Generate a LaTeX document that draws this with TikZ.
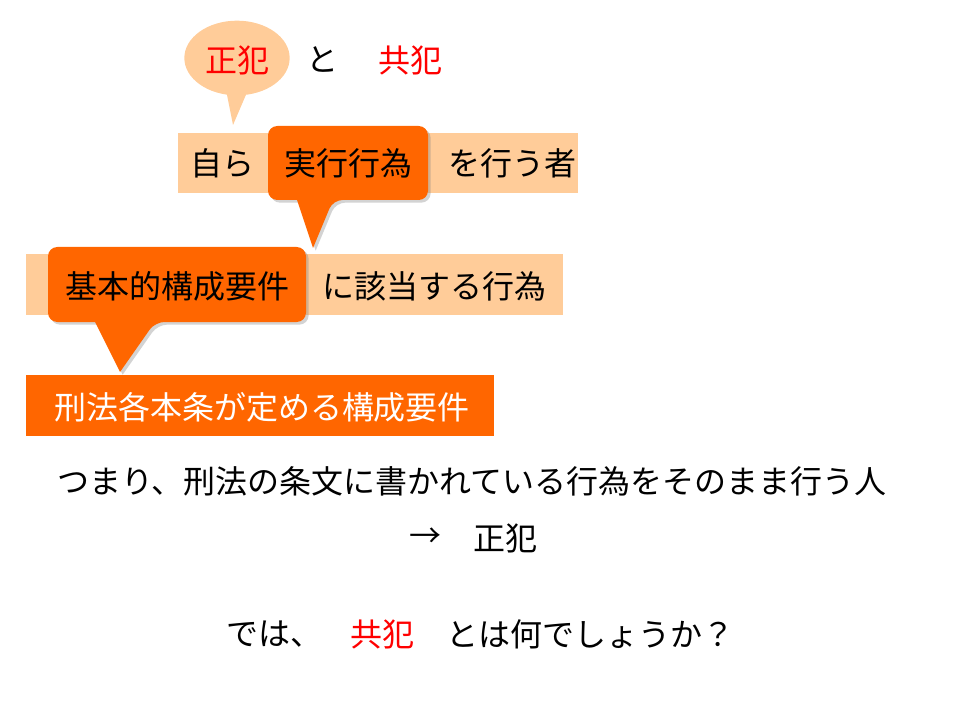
\documentclass[tikz,border=0pt]{standalone}
\usepackage{fontspec}
\setmainfont{Noto Sans CJK JP}
\usetikzlibrary{positioning,shadows}
\definecolor{peach}{HTML}{FFCC99}
\definecolor{deeporange}{HTML}{FF6600}
\definecolor{kred}{HTML}{FF0000}
\tikzset{
  txt/.style={font=\fontsize{24}{28}\selectfont, inner sep=0pt},
  redtxt/.style={txt, text=kred},
  bar/.style={fill=peach},
  callout/.style={fill=deeporange, drop shadow={opacity=0.35, shadow xshift=2pt, shadow yshift=-2pt}}
}
\begin{document}
\begin{tikzpicture}[x=0.75pt,y=-0.75pt]
\useasboundingbox (0,0) rectangle (960,720);
% title with speech bubble
\fill[peach] (237,58) ellipse [x radius=39.5pt, y radius=28pt];
\fill[peach] (226,90) -- (233,125) -- (248,90) -- cycle;
\node[redtxt] (seihan) at (237,60) {正犯};
\node[txt] (to) at (322,60) {と};
\node[redtxt] (kyohan) at (410,60) {共犯};

% first bar
\fill[bar] (178,133) rectangle (578,193);
\path[callout] (297,200) [rounded corners=7pt] -- (268,200) -- (268,126) -- (428,126) -- (428,200) -- (333,200) [sharp corners] -- (313,248) -- cycle;
\node[txt] (mizukara) at (222,163) {自ら};
\node[txt] (jikko) at (348,163) {実行行為};
\node[txt] (okonau) at (512,163) {を行う者};

% second bar
\fill[bar] (26,254) rectangle (563,315);
\path[callout] (95,322) [rounded corners=7pt] -- (48,322) -- (48,247) -- (306,247) -- (306,322) -- (155,322) [sharp corners] -- (120,372) -- cycle;
\node[txt] (kihon) at (177,286) {基本的構成要件};
\node[txt] (gaito) at (434,286) {に該当する行為};

% third bar
\fill[deeporange] (26,375) rectangle (494,436);
\node[txt, text=white] (keiho) at (262,407) {刑法各本条が定める構成要件};

% conclusion
\node[txt] (tsumari) at (472,481) {つまり、刑法の条文に書かれている行為をそのまま行う人};
\node[txt] (arrow) at (425,538) {→};
\node[txt] (seihan2) at (505,538) {正犯};
\node[txt] (dewa) at (274,634) {では、};
\node[redtxt] (kyohan2) at (382,634) {共犯};
\node[txt] (towa) at (590,634) {とは何でしょうか？};
\end{tikzpicture}
\end{document}
